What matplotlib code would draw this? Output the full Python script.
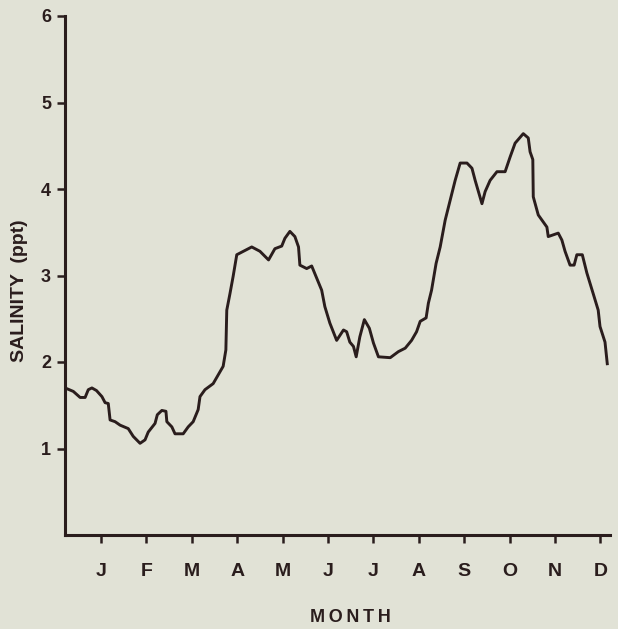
import matplotlib
matplotlib.use('Agg')
import matplotlib.pyplot as plt

# salinity trace (x in months, J=1 ... D=12)
month_pos = [0.21, 0.39, 0.54, 0.65, 0.72, 0.80, 0.90, 1.02, 1.09, 1.16,
             1.20, 1.31, 1.42, 1.60, 1.71, 1.86, 1.97, 2.04, 2.19, 2.24,
             2.34, 2.43, 2.45, 2.56, 2.63, 2.81, 2.92, 3.03, 3.14, 3.18,
             3.29, 3.47, 3.58, 3.69, 3.75, 3.77, 3.84, 3.91, 3.99, 4.32,
             4.50, 4.69, 4.83, 4.98, 5.05, 5.16, 5.27, 5.35, 5.38, 5.53,
             5.64, 5.75, 5.86, 5.93, 6.04, 6.19, 6.34, 6.41, 6.48, 6.56,
             6.62, 6.70, 6.80, 6.91, 7.00, 7.11, 7.37, 7.55, 7.70, 7.84,
             7.95, 8.03, 8.16, 8.21, 8.28, 8.38, 8.47, 8.58, 8.69, 8.80,
             8.91, 9.06, 9.17, 9.24, 9.39, 9.46, 9.57, 9.72, 9.90, 10.01,
             10.12, 10.30, 10.41, 10.45, 10.51, 10.52, 10.63, 10.82, 10.85, 11.07,
             11.15, 11.22, 11.33, 11.42, 11.48, 11.60, 11.70, 11.84, 11.95, 11.99,
             12.10, 12.15]
salinity = [1.70, 1.66, 1.59, 1.59, 1.68, 1.70, 1.67, 1.60, 1.53, 1.52,
            1.33, 1.31, 1.27, 1.23, 1.14, 1.06, 1.10, 1.19, 1.29, 1.39,
            1.44, 1.43, 1.31, 1.25, 1.17, 1.17, 1.25, 1.31, 1.45, 1.60,
            1.68, 1.75, 1.85, 1.95, 2.14, 2.60, 2.79, 2.99, 3.24, 3.33,
            3.28, 3.18, 3.31, 3.34, 3.43, 3.51, 3.45, 3.33, 3.12, 3.08,
            3.11, 2.97, 2.83, 2.64, 2.45, 2.25, 2.37, 2.35, 2.23, 2.18,
            2.06, 2.29, 2.49, 2.39, 2.22, 2.06, 2.05, 2.12, 2.16, 2.25,
            2.35, 2.47, 2.51, 2.68, 2.83, 3.14, 3.33, 3.64, 3.87, 4.10,
            4.30, 4.30, 4.24, 4.10, 3.83, 3.97, 4.10, 4.20, 4.20, 4.37,
            4.53, 4.64, 4.59, 4.43, 4.34, 3.91, 3.70, 3.56, 3.45, 3.49,
            3.41, 3.28, 3.12, 3.12, 3.24, 3.24, 3.03, 2.79, 2.60, 2.41,
            2.23, 1.98]

month_ticks = [1, 2, 3, 4, 5, 6, 7, 8, 9, 10, 11, 12]
month_labels = ['J', 'F', 'M', 'A', 'M', 'J', 'J', 'A', 'S', 'O', 'N', 'D']
y_ticks = [1, 2, 3, 4, 5, 6]

bg = '#e1e2d6'
ink = '#2a1d1d'

plt.rcParams['font.family'] = ['Liberation Sans', 'DejaVu Sans']
plt.rcParams['font.weight'] = 'bold'

fig = plt.figure(figsize=(6.18, 6.29), dpi=100, facecolor=bg)
ax = fig.add_axes([65 / 618, 1 - 535 / 629, 545 / 618, 519 / 629])
ax.set_facecolor(bg)

ax.plot(month_pos, salinity, color=ink, linewidth=2.1, solid_joinstyle='round')

ax.set_xlim(0.207, 12.21)
ax.set_ylim(0, 6)

for side in ['top', 'right']:
    ax.spines[side].set_visible(False)
for side in ['left', 'bottom']:
    ax.spines[side].set_color(ink)
    ax.spines[side].set_linewidth(2.2)

ax.set_xticks(month_ticks)
ax.set_xticklabels(month_labels)
ax.set_yticks(y_ticks)
ax.tick_params(axis='x', length=6, width=1.8, color=ink, pad=14,
               labelsize=14, labelcolor=ink)
ax.tick_params(axis='y', length=6, width=1.8, color=ink, pad=4,
               labelsize=13, labelcolor=ink)
for lbl in ax.get_xticklabels() + ax.get_yticklabels():
    lbl.set_fontweight('bold')

fig.text(20 / 618, 1 - 291 / 629, 'SALINITY  (ppt)', rotation=90,
         ha='center', va='center', fontsize=14, fontweight='bold', color=ink)
fig.text(350 / 618, 1 - 618 / 629, 'M\u2009O\u2009N\u2009T\u2009H', ha='center',
         va='center', fontsize=13, fontweight='bold', color=ink)

fig.savefig('out.png', dpi=100, facecolor=bg)
